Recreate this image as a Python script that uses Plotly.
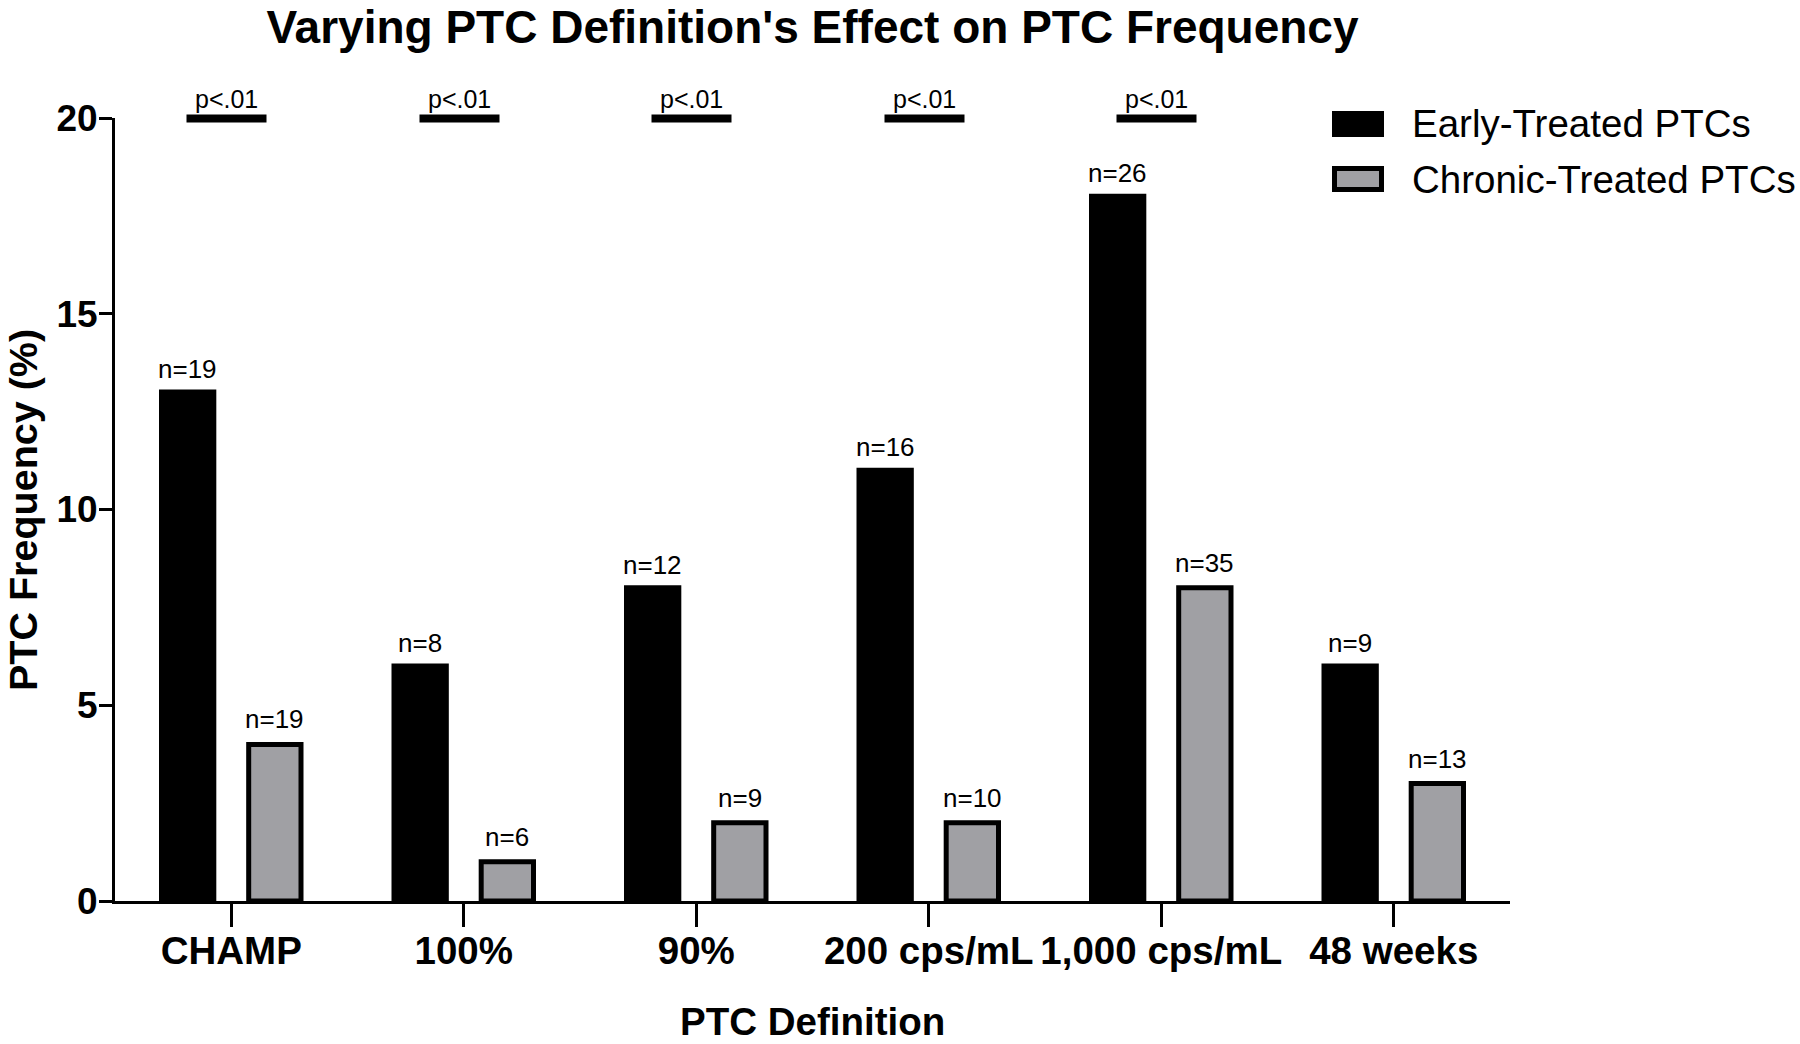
import plotly.graph_objects as go

# ---------------- data ----------------
categories = ["CHAMP", "100%", "90%", "200 cps/mL", "1,000 cps/mL", "48 weeks"]
early_values = [13, 6, 8, 11, 18, 6]
chronic_values = [4, 1, 2, 2, 8, 3]
early_n = ["n=19", "n=8", "n=12", "n=16", "n=26", "n=9"]
chronic_n = ["n=19", "n=6", "n=9", "n=10", "n=35", "n=13"]
series_names = ["Early-Treated PTCs", "Chronic-Treated PTCs"]
sig_categories = ["CHAMP", "100%", "90%", "200 cps/mL", "1,000 cps/mL"]
sig_labels = ["p<.01", "p<.01", "p<.01", "p<.01", "p<.01"]
sig_level = 20
y_ticks = [0, 5, 10, 15, 20]

# ---------------- style ----------------
FONT = "Liberation Sans, Arial, sans-serif"
BLACK = "#000000"
GRAY = "#a0a0a4"
W, H = 1800, 1044
ML, MR, MT, MB = 115, 290, 118, 143
PW, PH = W - ML - MR, H - MT - MB
BARGAP, BARGROUPGAP = 0.25, 0.40
SLOT_OFF = (1 - BARGAP) / 4  # centre offset of each bar within a group


def px_x(p):
    return (p - ML) / PW


def px_y(p):
    return (H - MB - p) / PH


fig = go.Figure()
fig.add_trace(go.Bar(
    x=categories, y=early_values, name=series_names[0],
    marker=dict(color=BLACK, line=dict(color=BLACK, width=5)),
    showlegend=False,
))
fig.add_trace(go.Bar(
    x=categories, y=chronic_values, name=series_names[1],
    marker=dict(color=GRAY, line=dict(color=BLACK, width=5)),
    showlegend=False,
))

annotations = []
# n labels above bars
for i, (v, t) in enumerate(zip(early_values, early_n)):
    annotations.append(dict(x=i - SLOT_OFF, y=v, xref="x", yref="y", text=t,
                            showarrow=False, yanchor="middle", yshift=23,
                            font=dict(family=FONT, size=26, color=BLACK)))
for i, (v, t) in enumerate(zip(chronic_values, chronic_n)):
    annotations.append(dict(x=i + SLOT_OFF, y=v, xref="x", yref="y", text=t,
                            showarrow=False, yanchor="middle", yshift=25,
                            font=dict(family=FONT, size=26, color=BLACK)))
# significance bars and labels
for c, lab in zip(sig_categories, sig_labels):
    i = categories.index(c)
    annotations.append(dict(x=i - 0.02, y=sig_level, xref="x", yref="y", text=" ",
                            showarrow=False, xanchor="center", yanchor="middle",
                            width=79, height=7, bgcolor=BLACK, borderpad=0,
                            font=dict(family=FONT, size=2, color=BLACK)))
    annotations.append(dict(x=i - 0.02, y=sig_level, xref="x", yref="y", text=lab,
                            showarrow=False, xanchor="center", yanchor="middle",
                            yshift=19, font=dict(family=FONT, size=25, color=BLACK)))

# axis titles
annotations.append(dict(x=0.5, y=px_y(1021), xref="paper", yref="paper",
                        text="<b>PTC Definition</b>", showarrow=False,
                        xanchor="center", yanchor="middle",
                        font=dict(family=FONT, size=38.5, color=BLACK)))
annotations.append(dict(x=px_x(23), y=px_y(510), xref="paper", yref="paper",
                        text="<b>PTC Frequency (%)</b>", showarrow=False, textangle=-90,
                        xanchor="center", yanchor="middle",
                        font=dict(family=FONT, size=39.5, color=BLACK)))

# manual legend
shapes = []
legend_rows = [(124, BLACK, 0), (179, GRAY, 5)]
for (cy, fill, lw), name in zip(legend_rows, series_names):
    inset = lw / 2
    shapes.append(dict(type="rect", xref="paper", yref="paper",
                       x0=px_x(1332 + inset), x1=px_x(1384 - inset),
                       y0=px_y(cy + 13 - inset), y1=px_y(cy - 13 + inset),
                       fillcolor=fill, line=dict(color=BLACK, width=lw)))
    annotations.append(dict(x=px_x(1410), y=px_y(cy), xref="paper", yref="paper",
                            text=name, showarrow=False, xanchor="left", yanchor="middle",
                            font=dict(family=FONT, size=38.5, color=BLACK)))

fig.update_layout(
    width=W, height=H,
    margin=dict(l=ML, r=MR, t=MT, b=MB, autoexpand=False),
    paper_bgcolor="white", plot_bgcolor="white",
    barmode="group", bargap=BARGAP, bargroupgap=BARGROUPGAP,
    title=dict(text="<b>Varying PTC Definition's Effect on PTC Frequency</b>",
               x=0.5, xref="paper", xanchor="center",
               y=1 - 27 / H, yref="container", yanchor="middle",
               font=dict(family=FONT, size=46, color=BLACK)),
    annotations=annotations,
    shapes=shapes,
    font=dict(family=FONT, color=BLACK),
)
fig.update_xaxes(
    type="category", range=[-0.5, len(categories) - 0.5],
    showline=True, linecolor=BLACK, linewidth=3,
    ticks="outside", ticklen=23, tickwidth=3, tickcolor=BLACK,
    tickfont=dict(family=FONT, size=38.5, color=BLACK), ticklabelstandoff=-9,
    tickvals=categories, ticktext=["<b>%s</b>" % c for c in categories],
    showgrid=False, zeroline=False, automargin=False,
)
fig.update_yaxes(
    range=[0, 20], tickvals=y_ticks, ticktext=["<b>%d</b>" % t for t in y_ticks],
    showline=True, linecolor=BLACK, linewidth=3,
    ticks="outside", ticklen=13, tickwidth=3, tickcolor=BLACK,
    tickfont=dict(family=FONT, size=37, color=BLACK), ticklabelstandoff=-6,
    showgrid=False, zeroline=False, automargin=False,
)

fig.write_html("out.html", config={"displayModeBar": False},
               post_script="document.body.style.margin='0px';")
